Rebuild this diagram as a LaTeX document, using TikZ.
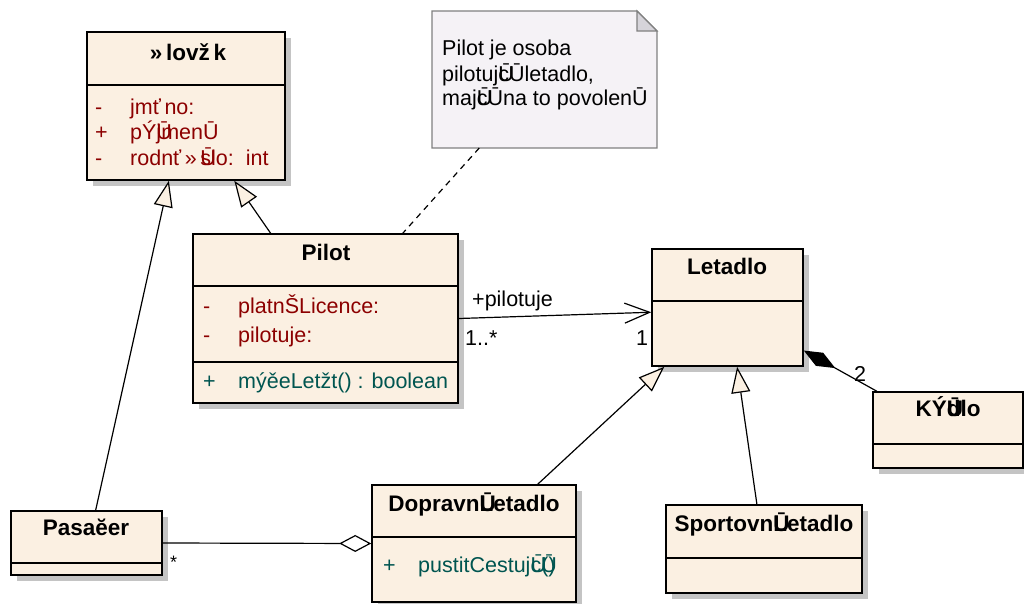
\documentclass[tikz,border=0pt]{standalone}
\usepackage{fontspec}
\setmainfont{Liberation Sans}
\usetikzlibrary{arrows.meta,calc,shadows}
\definecolor{classfill}{RGB}{251,240,226}
\definecolor{notefill}{RGB}{245,242,246}
\definecolor{noteline}{RGB}{128,128,128}
\definecolor{earfill}{RGB}{214,212,218}
\definecolor{attrred}{RGB}{140,0,0}
\definecolor{opteal}{RGB}{0,85,80}
\definecolor{shadowgray}{RGB}{196,196,196}
% glyph drawn over the next one
\newcommand{\overglyph}[2]{\rlap{#1}#2}
% visibility marker column
\newcommand{\vis}[1]{\makebox[35pt][l]{#1}}

\tikzset{
  classbox/.style={draw, line width=1.6pt, fill=classfill, inner sep=0pt,
    drop shadow={shadow xshift=6pt, shadow yshift=-6pt, fill=shadowgray, opacity=1}},
  classname/.style={font=\fontsize{22.5}{26}\selectfont\bfseries, anchor=base, inner sep=0pt},
  attrtext/.style={font=\fontsize{21.5}{25}\selectfont, text=attrred, anchor=base west, inner sep=0pt},
  optext/.style={font=\fontsize{21.5}{25}\selectfont, text=opteal, anchor=base west, inner sep=0pt},
  plaintext/.style={font=\fontsize{21.5}{25}\selectfont, anchor=base west, inner sep=0pt},
  divider/.style={line width=1.6pt},
  genline/.style={line width=1.2pt, -{Triangle[length=26pt,width=19pt,fill=classfill]}},
  assocline/.style={line width=1.2pt, -{Straight Barb[length=25pt,width=20pt]}},
  compline/.style={line width=1.2pt, {Diamond[length=36pt,width=15pt,fill=black]}-},
  aggline/.style={line width=1.2pt, {Diamond[length=32pt,width=17pt,fill=white]}-},
  notebox/.style={inner sep=0pt, outer sep=0pt},
  notelink/.style={line width=1.2pt, dash pattern=on 6pt off 5pt},
}

\begin{document}
\begin{tikzpicture}[x=1pt, y=-1pt]
    \useasboundingbox (0,0) rectangle (1024,603);

    % classes
    \node[classbox, minimum width=198, minimum height=148] (clovek) at (186,106) {};
    \node[classbox, minimum width=265, minimum height=169] (pilot) at (325.5,318.5) {};
    \node[classbox, minimum width=151, minimum height=117] (letadlo) at (727.5,307.5) {};
    \node[classbox, minimum width=150, minimum height=76] (kridlo) at (948,430) {};
    \node[classbox, minimum width=151, minimum height=64] (pasazer) at (86.5,543) {};
    \node[classbox, minimum width=204, minimum height=117] (dopravni) at (474,543.5) {};
    \node[classbox, minimum width=196, minimum height=88] (sportovni) at (764,549) {};

    % compartments
    \draw[divider] ($(clovek.north west)+(0,54)$) -- ($(clovek.north east)+(0,54)$);
    \draw[divider] ($(pilot.north west)+(0,53)$) -- ($(pilot.north east)+(0,53)$);
    \draw[divider] ($(pilot.north west)+(0,129)$) -- ($(pilot.north east)+(0,129)$);
    \draw[divider] ($(letadlo.north west)+(0,53)$) -- ($(letadlo.north east)+(0,53)$);
    \draw[divider] ($(kridlo.north west)+(0,53)$) -- ($(kridlo.north east)+(0,53)$);
    \draw[divider] ($(pasazer.north west)+(0,53)$) -- ($(pasazer.north east)+(0,53)$);
    \draw[divider] ($(dopravni.north west)+(0,53)$) -- ($(dopravni.north east)+(0,53)$);
    \draw[divider] ($(sportovni.north west)+(0,54)$) -- ($(sportovni.north east)+(0,54)$);

    % class texts
    \node[classname] (clovek-name) at (188,60) {»\,lovž\,k};
    \node[attrtext] (clovek-a1) at (95,114) {\vis{-}jmť\,no:};
    \node[attrtext] (clovek-a2) at (95,139) {\vis{+}pÝ\overglyph{Ū}{j}menŪ};
    \node[attrtext] (clovek-a3) at (95,165) {\vis{-}rodnť\,»\,\overglyph{Ū}{s}lo:\hspace{12pt}int};

    \node[classname] (pilot-name) at (326,260) {Pilot};
    \node[attrtext] (pilot-a1) at (203,313) {\vis{-}platnŠLicence:};
    \node[attrtext] (pilot-a2) at (203,342) {\vis{-}pilotuje:};
    \node[optext] (pilot-o1) at (203,388) {\vis{+}mýěeLetžt() : boolean};

    \node[classname] (letadlo-name) at (727,274) {Letadlo};
    \node[classname] (kridlo-name) at (948,416) {KÝ\overglyph{Ū}{d}lo};
    \node[classname] (pasazer-name) at (86,535) {Pasaĕer};
    \node[classname] (dopravni-name) at (474,511) {Dopravn\overglyph{Ū}{L}etadlo};
    \node[optext] (dopravni-o1) at (383,572) {\vis{+}pustitCestuj\overglyph{Ū}{c}\overglyph{Ū}{(})};
    \node[classname] (sportovni-name) at (764,531) {Sportovn\overglyph{Ū}{L}etadlo};

    % note with folded corner
    \node[notebox, minimum width=225, minimum height=137] (note) at (544.5,79.5) {};
    \filldraw[fill=notefill, draw=noteline, line width=1.2pt]
        (note.south west) -- (note.north west) -- ($(note.north east)+(-20,0)$)
        -- ($(note.north east)+(0,20)$) -- (note.south east) -- cycle;
    \filldraw[fill=earfill, draw=noteline, line width=1.2pt]
        ($(note.north east)+(-20,0)$) -- ($(note.north east)+(-20,20)$) -- ($(note.north east)+(0,20)$) -- cycle;
    \node[plaintext] (note-l1) at (442,55) {Pilot je osoba};
    \node[plaintext] (note-l2) at (442,81) {pilotuj\overglyph{Ū}{c}Ūletadlo,};
    \node[plaintext] (note-l3) at (442,105) {maj\overglyph{Ū}{c}Ūna to povolenŪ};

    % relations
    \draw[notelink] ($(note.south west)!0.21!(note.south east)$) -- ($(pilot.north west)!0.79!(pilot.north east)$);
    \draw[genline] ($(pasazer.north west)!0.56!(pasazer.north east)$) -- ($(clovek.south west)!0.414!(clovek.south east)$);
    \draw[genline] ($(pilot.north west)!0.294!(pilot.north east)$) -- ($(clovek.south west)!0.742!(clovek.south east)$);
    \draw[genline] ($(dopravni.north west)!0.81!(dopravni.north east)$) -- ($(letadlo.south west)!0.086!(letadlo.south east)$);
    \draw[genline] ($(sportovni.north west)!0.464!(sportovni.north east)$) -- ($(letadlo.south west)!0.563!(letadlo.south east)$);
    \draw[assocline] (pilot.east) -- ($(letadlo.north west)!0.54!(letadlo.south west)$);
    \draw[compline] ($(letadlo.north east)!0.863!(letadlo.south east)$) -- ($(kridlo.north west)!0.03!(kridlo.north east)$);
    \draw[aggline] (dopravni.west) -- (pasazer.east);

    % role names and multiplicities
    \node[plaintext] (role-pilotuje) at (472,306) {+pilotuje};
    \node[plaintext] (mult-pilot) at (465,345) {1..*};
    \node[plaintext] (mult-letadlo) at (636,345) {1};
    \node[plaintext] (mult-kridlo) at (854,381) {2};
    \node[plaintext, font=\fontsize{18}{20}\selectfont] (mult-pasazer) at (170,568) {*};
\end{tikzpicture}
\end{document}
